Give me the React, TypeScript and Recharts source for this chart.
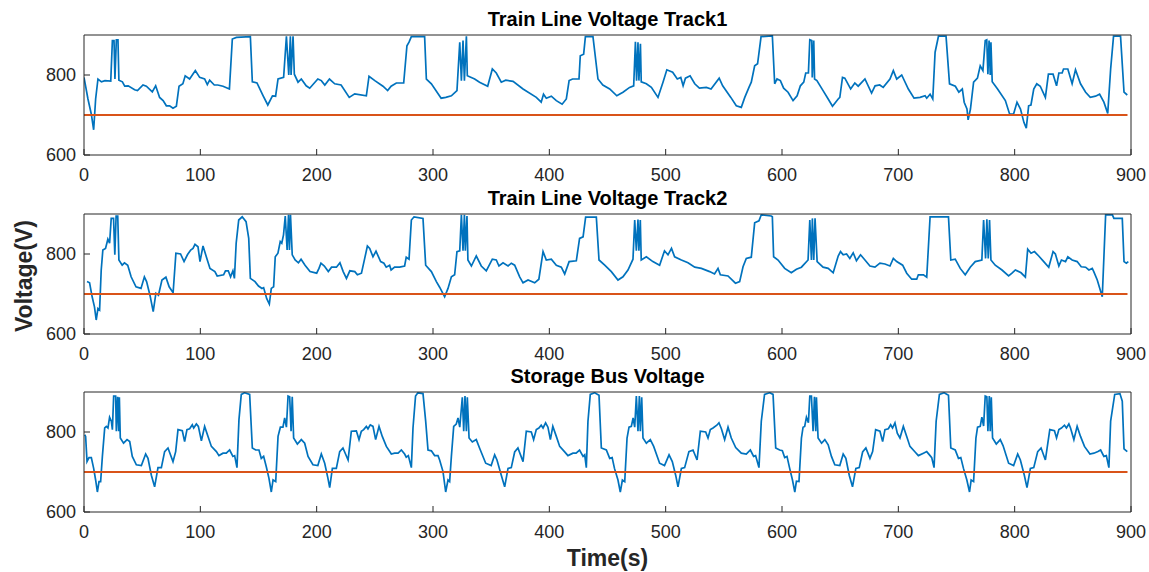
import { Line, LineChart, XAxis, YAxis } from 'recharts';

const X_TICKS = [0, 100, 200, 300, 400, 500, 600, 700, 800, 900];
const Y_TICKS = [600, 800];
const LIMIT: [number, number][] = [[0, 700], [897, 700]];

const TITLES = ['Train Line Voltage Track1', 'Train Line Voltage Track2', 'Storage Bus Voltage'];

// [time (s), voltage (V)]
const TRACK1: [number, number][] = [
  [0,794],[3.4,740],[6.3,702],[8.3,663],[10,740],[12,790],[15,783],[18,786],[23,785],[24.4,886],[25.8,886],[26.6,790],[27.8,888],[29.2,888],[30,787],[33,783],[35,772],[38,773],[43.5,763],[46,761],[50.7,775],[53.6,772],[58.7,758],[61.6,773],[65,744],[68,736],[70.8,723],[73.6,723],[76.5,717],[79.4,722],[81.7,772],[85,778],[87,798],[90.8,790],[95.7,811],[99.4,794],[103.7,790],[106,776],[108,787],[112,775],[115,775],[119.5,772],[125,765],[127.5,890],[131,894],[143,896],[144.7,783],[148.7,780],[154,748],[158,725],[162,748],[164.7,747],[166.8,790],[171.6,794],[174,897],[176,800],[177.4,897],[178,800],[179.7,897],[180.8,802],[184,782],[186.8,790],[191,773],[194,767],[201,790],[204,786],[207,775],[211,790],[215.5,778],[221,775],[228,744],[232.7,753],[242.7,748],[245,797],[250,786],[257,772],[261,761],[264,772],[268.5,780],[274.8,780],[277.6,873],[279.4,882],[281.4,896],[292.8,896],[294.3,790],[298.6,778],[307,742],[311,744],[315.8,748],[320.6,761],[323,882],[324.4,786],[325.8,886],[327,786],[328.7,897],[329.5,798],[335.8,790],[340,782],[347,772],[351,815],[354.4,805],[358.7,782],[362.5,787],[368.8,784],[377.4,765],[388.8,744],[393,732],[395,752],[397.4,742],[401.7,747],[406,736],[411,727],[414.6,740],[417,786],[420,790],[425.5,790],[426.6,848],[429.5,852],[431,896],[437.5,896],[441.8,790],[446,775],[451.9,765],[458,748],[463.3,757],[469,769],[472.5,773],[474,883],[475,786],[476.2,882],[477,786],[478.3,878],[479,783],[483.4,778],[487.7,769],[493.4,744],[497.7,782],[501,813],[506,807],[510,790],[513,794],[515,773],[517,792],[521,798],[525,778],[529,767],[535,769],[539,765],[546,792],[549,773],[556,744],[560.7,723],[565,719],[568,744],[571.6,769],[573.6,782],[576.5,823],[579,828],[582,896],[591.7,898],[593.7,778],[595.7,790],[598.6,786],[601.4,767],[605.2,757],[609.5,736],[613,748],[615.8,773],[618.7,782],[620.4,805],[622.7,805],[623.9,888],[625.6,886],[626,794],[627.3,886],[628,790],[630,786],[635.3,761],[639.7,740],[643.4,722],[648.3,740],[649.7,744],[652,794],[654,792],[659,765],[662.6,780],[665.5,772],[671.3,790],[677,755],[680,773],[684,775],[687,769],[692.8,790],[695.7,811],[698.6,790],[702.9,800],[708.6,765],[713.5,742],[718.7,744],[723,748],[724.4,742],[727.3,752],[729.6,740],[731.6,857],[734.5,897],[741,897],[744,778],[749,772],[752,757],[755,765],[756.6,732],[759,715],[760,688],[762,715],[764.7,782],[768,792],[770.4,823],[772.7,811],[774.7,886],[776,888],[777,802],[778,886],[779,800],[779.6,882],[780.7,783],[785.3,765],[792,736],[795.7,702],[799,702],[802,732],[805,715],[808,681],[810,667],[812,723],[814,725],[816.4,765],[819,778],[822,772],[826.4,744],[829,802],[833,802],[836,773],[838,805],[840.8,805],[842,815],[845.7,815],[849.4,778],[852.3,813],[856.6,778],[861,757],[865,744],[869.5,747],[873,752],[876.7,732],[880,704],[882.5,815],[885,897],[891,897],[894,757],[896.8,750],
];

const TRACK2: [number, number][] = [
  [2.6,731],[4.8,728],[7,693],[9,668],[10.5,635],[12,664],[13.4,660],[14.8,760],[16.2,810],[18.5,814],[20.5,837],[22,827],[23.4,889],[25.4,889],[26.5,798],[27.6,895],[29,895],[30,785],[32.8,772],[34.8,778],[37.6,772],[40.5,743],[44.7,718],[49,714],[51.9,743],[53.8,731],[56.7,697],[59.5,656],[61.8,702],[64,697],[67,735],[70.4,742],[73.2,718],[76.6,703],[79,802],[83,800],[86,781],[88.9,798],[91.7,810],[93.7,814],[95.4,824],[98,818],[99.7,781],[102.3,820],[106,785],[108.3,764],[112.5,756],[114.5,745],[120,748],[121.6,758],[124,758],[126,743],[128,758],[129.3,739],[130.8,827],[133,885],[136,893],[139.3,881],[141.6,839],[143,739],[147,731],[150,720],[153,714],[154.4,716],[157,689],[159.3,675],[161,714],[163,718],[164.4,793],[166.7,802],[168.7,831],[170,827],[171.5,848],[173,895],[174.6,810],[175.8,898],[176.6,810],[177.5,898],[179,798],[181.5,785],[184.3,778],[186.6,787],[190,772],[194.3,756],[200,752],[202,764],[203.7,777],[206.6,770],[210,756],[212.8,767],[217,767],[220,778],[222.8,756],[225.6,739],[228.5,758],[232.8,756],[235,748],[238.5,752],[241.3,789],[243.6,820],[245.6,814],[248.4,793],[251,807],[255,781],[257.8,777],[259.8,767],[262.7,772],[264,760],[267,767],[271.3,767],[275.6,770],[277,792],[279.4,787],[281.4,885],[283.7,893],[291.4,889],[293.7,772],[298.6,756],[302.9,731],[305.7,717],[310,693],[312.9,714],[315.8,743],[318.6,748],[320.6,806],[323,808],[324.4,898],[325.8,808],[327,898],[327.8,808],[329.2,895],[330,785],[333,770],[337.2,795],[341.5,770],[345.8,758],[351,787],[354.4,785],[356.7,770],[360.2,778],[364.5,770],[367.3,777],[370.2,772],[374.5,743],[377.4,728],[381.7,735],[387.4,728],[391,737],[394.6,806],[397.4,785],[401.7,787],[406,772],[410.3,767],[413.2,750],[417,781],[423.2,783],[426,839],[429,843],[431.2,892],[440.4,892],[442.7,785],[447.6,772],[453.3,756],[459,735],[463.3,743],[467.6,760],[471.9,787],[473.4,885],[474.8,808],[476.2,886],[477,808],[478.2,885],[479,785],[483.4,793],[489,781],[494.8,772],[499,808],[502,798],[505,814],[507.7,793],[513.5,785],[519.2,778],[525,767],[530.7,764],[537.8,756],[542,750],[545,764],[547,748],[553.6,745],[560,727],[563.6,731],[566.5,768],[569.3,789],[573.6,792],[576.5,878],[580.2,883],[582.2,898],[590.8,895],[591.7,893],[592.8,793],[596.6,785],[602.3,764],[608,753],[612.4,762],[616.7,767],[622.4,785],[623.9,885],[625.3,785],[626.1,889],[627.3,785],[628.4,889],[630.2,781],[635.3,767],[639.7,764],[644,753],[648.3,795],[650.3,806],[652.6,798],[655.5,800],[658.3,789],[661.2,803],[664,783],[667.5,798],[671.3,785],[675.6,770],[679.9,767],[684.2,777],[688.5,775],[692.8,770],[695.7,789],[698.6,781],[703.7,772],[707.2,752],[711.5,737],[715.8,737],[717.2,748],[721.6,748],[724.4,742],[727.3,893],[743.1,893],[745.1,785],[748.9,787],[753.2,764],[757.5,748],[761.8,767],[766.1,781],[771.8,785],[773.3,885],[775,789],[776.1,887],[777.3,789],[778.4,885],[779.6,785],[783.3,772],[789.1,760],[794.8,745],[797.7,752],[800.6,760],[805.5,753],[809.2,742],[811.2,812],[814.1,802],[817,806],[820.7,795],[825,781],[829.3,767],[833,806],[835,800],[838,770],[840.2,785],[843.7,781],[845.7,793],[849.4,785],[853.7,781],[857.2,768],[861,767],[863.8,760],[866.7,764],[868,756],[871,735],[875.3,693],[878.2,898],[884,898],[885.3,889],[892.5,889],[894,781],[896,777],[897.7,781],
];

const STORAGE: [number, number][] = [
  [0.6,793],[1.4,789],[2.6,726],[4.3,736],[6.3,736],[8.3,709],[10,680],[11.5,650],[12.9,676],[14.3,676],[15.8,739],[17.8,810],[19.2,814],[20.6,810],[22,837],[23.5,827],[24.4,806],[25.5,890],[27.2,890],[27.8,802],[28.9,888],[29.8,802],[30.4,887],[31.2,785],[34,772],[37,781],[39.3,776],[41.5,739],[45,718],[49.3,716],[53,745],[55,734],[57.9,692],[60.7,663],[63.6,711],[66.5,711],[69.3,751],[72.2,760],[76.5,726],[78.8,751],[80.8,806],[84.5,803],[86.5,776],[88.5,806],[90.8,808],[93.1,818],[94.3,810],[96.6,820],[98.3,814],[100.9,778],[103.7,814],[106.6,789],[109.5,764],[113.8,751],[116,741],[119.5,747],[122.3,747],[125.2,755],[128,739],[129.5,741],[131.5,711],[133.2,831],[135.2,894],[138,898],[142.4,894],[144.7,760],[147.6,755],[150.4,755],[152.4,734],[154.4,739],[156.7,713],[159,684],[161,650],[162.5,680],[164.8,676],[166.8,789],[168.8,812],[171,812],[172.5,835],[174,812],[175.4,890],[176.8,888],[178,802],[179,888],[180.2,785],[183.4,770],[186.8,781],[189.7,772],[192.6,739],[196.8,718],[201,716],[204,745],[206.9,722],[209.7,684],[211.2,661],[213.5,709],[216.9,709],[219.8,751],[222.6,760],[227,730],[229.8,802],[234.1,803],[236.4,781],[238.4,802],[240.4,806],[242.7,814],[244.1,808],[246.1,818],[248.4,814],[250.7,781],[253.6,814],[256.4,789],[259.9,764],[264.2,745],[267,747],[270,747],[272.8,755],[275.6,745],[277,737],[278.8,741],[281.4,711],[282.8,810],[285,890],[287,898],[291.4,896],[293.7,827],[295.7,755],[298.6,753],[301.4,741],[304.3,741],[305.7,730],[308.6,701],[310.9,650],[312.9,680],[314.3,676],[315.8,739],[317.8,814],[320,820],[321.5,835],[323,812],[325.2,887],[326.4,802],[327.5,890],[328.7,802],[329.5,887],[331,785],[333.8,775],[337.2,781],[340,760],[345.3,722],[350,716],[353,743],[355,730],[358.7,692],[361.6,663],[364.5,709],[367.3,711],[370.2,750],[373,760],[377.4,726],[380.2,802],[384.5,800],[386.5,781],[388.8,806],[391,810],[393,817],[394.6,810],[396.8,823],[398.8,812],[400.9,781],[403,814],[406,789],[408.9,764],[413,751],[416,741],[420.3,747],[423,747],[426,755],[429,739],[430.4,743],[431.8,711],[433.2,827],[435.2,894],[439,898],[442.7,892],[444.7,760],[449,755],[451.9,734],[454,736],[456,709],[459,680],[461,650],[462.8,680],[464.8,676],[466.8,785],[468.5,812],[470.5,814],[472,835],[473.4,812],[474.8,890],[476.2,802],[477.4,890],[478.2,802],[479.4,887],[480.5,785],[483.4,772],[486.8,781],[489.7,764],[494.8,722],[499,716],[502.9,743],[505.7,726],[508.6,692],[510.6,663],[513.5,709],[516.3,711],[520,751],[523.5,755],[527,730],[529.8,802],[534.4,800],[536.4,785],[538.4,806],[540.7,810],[544,817],[545.8,823],[547.9,808],[550.7,781],[553.6,812],[556.4,785],[560.2,761],[565,747],[569.3,745],[572.8,755],[575.6,739],[577.3,741],[580.2,711],[582.2,827],[585,894],[589.4,898],[592.3,894],[594.6,760],[598,755],[600.3,753],[602.3,736],[604.3,739],[606.6,709],[609,680],[611,650],[612.4,677],[614.6,676],[616.7,785],[618.1,812],[619.5,814],[621,837],[622.7,823],[623.9,890],[625.3,890],[626.7,802],[627.9,888],[629,802],[629.6,887],[631,785],[634,772],[636.8,781],[639.7,768],[642.5,739],[645.4,718],[649.7,716],[652.6,745],[654.9,734],[657.8,692],[660.6,663],[663.5,709],[666.4,711],[669.3,750],[672.1,760],[675.6,734],[677.9,751],[680.5,806],[684.2,802],[686.5,776],[688.5,806],[691.4,808],[693.4,818],[695,810],[697.1,823],[699.1,797],[701.4,785],[704.3,814],[707.2,789],[710,764],[714.4,750],[717.2,741],[721.6,747],[724.4,751],[727.3,741],[728.7,736],[730.7,711],[732.5,827],[735.3,894],[739.4,898],[743.1,892],[745.1,760],[748.9,755],[751.7,734],[753.7,736],[756,709],[758.9,680],[761.2,650],[762.6,680],[764.7,676],[766.7,785],[768.1,812],[770.4,814],[771.8,837],[773.3,815],[774.7,890],[776.1,888],[777,802],[778.2,890],[779,802],[779.9,887],[781,785],[784.2,770],[787.6,781],[790,766],[794.8,722],[799.1,716],[802.6,745],[804.9,730],[808.3,692],[810.6,661],[813.5,709],[816.4,711],[819.8,751],[822.7,760],[826.4,730],[830.2,806],[834.2,803],[836,785],[838,806],[840.2,810],[842.8,817],[844.5,810],[846.6,820],[848,810],[850.9,781],[853.7,814],[856.6,789],[860,764],[864.7,745],[868.1,747],[871.6,751],[873.9,755],[876.7,739],[878.8,741],[881,711],[882.5,827],[886,894],[890.5,896],[892.5,877],[894,758],[896.8,751],
];

const FONT = '"Liberation Sans", Arial, Helvetica, sans-serif';
const AXIS = '#262626';
const BLUE = '#0072BD';
const ORANGE = '#D95319';
const W = 1149;

const rows = (pts: [number, number][]) => pts.map(([t, v]) => ({ t, v }));

function Panel({ top, plotTop, series }: { top: number; plotTop: number; series: [number, number][] }) {
  const h = 190;
  const plotH = 120;
  const tick = { fill: AXIS, fontSize: 18, fontFamily: FONT };
  return (
    <div style={{ position: 'absolute', left: 0, top }}>
      <LineChart width={W} height={h} margin={{ top: plotTop - 1, right: 17, bottom: 0, left: 24 }}>
        <XAxis
          xAxisId='b'
          dataKey='t'
          type='number'
          domain={[0, 900]}
          ticks={X_TICKS}
          allowDataOverflow
          height={h - plotTop - plotH}
          stroke={AXIS}
          tick={tick}
          tickSize={-6}
          tickMargin={19}
        />
        <XAxis
          xAxisId='t'
          orientation='top'
          dataKey='t'
          type='number'
          domain={[0, 900]}
          ticks={X_TICKS}
          height={1}
          stroke={AXIS}
          tick={false}
          tickSize={-6}
        />
        <YAxis
          yAxisId='l'
          domain={[600, 900]}
          ticks={Y_TICKS}
          allowDataOverflow
          width={60}
          stroke={AXIS}
          tick={tick}
          tickSize={-6}
          tickMargin={14}
        />
        <YAxis
          yAxisId='r'
          orientation='right'
          domain={[600, 900]}
          ticks={Y_TICKS}
          width={1}
          stroke={AXIS}
          tick={false}
          tickSize={-6}
        />
        <Line
          xAxisId='b'
          yAxisId='l'
          data={rows(series)}
          dataKey='v'
          type='linear'
          stroke={BLUE}
          strokeWidth={1.7}
          dot={false}
          isAnimationActive={false}
        />
        <Line
          xAxisId='b'
          yAxisId='l'
          data={rows(LIMIT)}
          dataKey='v'
          type='linear'
          stroke={ORANGE}
          strokeWidth={2}
          dot={false}
          isAnimationActive={false}
        />
      </LineChart>
    </div>
  );
}

export default function App() {
  return (
    <div style={{ position: 'absolute', left: 0, top: 0, width: W, height: 572, background: '#fff', fontFamily: FONT }}>
      <Panel top={0} plotTop={35} series={TRACK1} />
      <Panel top={180} plotTop={34} series={TRACK2} />
      <Panel top={360} plotTop={32} series={STORAGE} />
      <svg width={W} height={572} style={{ position: 'absolute', left: 0, top: 0, pointerEvents: 'none' }}>
        <g fontFamily={FONT} fontWeight='bold' fill='#000' textAnchor='middle'>
          <text x={607.5} y={26} fontSize={20}>{TITLES[0]}</text>
          <text x={607.5} y={205} fontSize={20}>{TITLES[1]}</text>
          <text x={607.5} y={383} fontSize={20}>{TITLES[2]}</text>
          <text x={607.5} y={566} fontSize={23} fill={AXIS}>Time(s)</text>
          <text x={32} y={276} fontSize={23} fill={AXIS} transform='rotate(-90 32 276)'>Voltage(V)</text>
        </g>
      </svg>
    </div>
  );
}
